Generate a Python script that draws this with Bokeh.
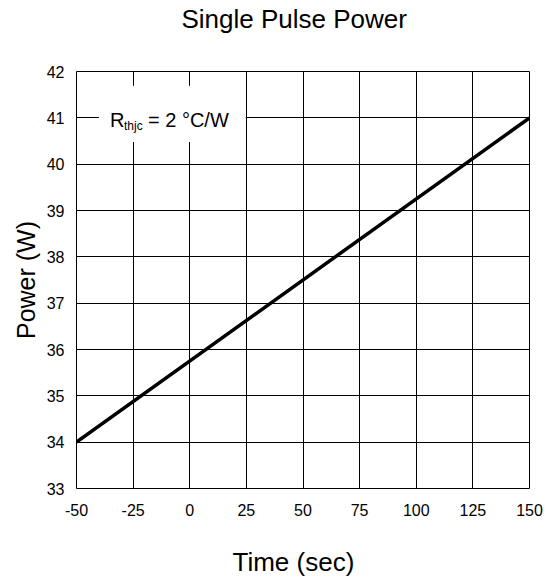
from bokeh.plotting import figure
from bokeh.models import FixedTicker, Label, BoxAnnotation, Title
from bokeh.embed import file_html
from bokeh.resources import INLINE

# Pulse power vs. time
time_s = [-50, 150]
power_w = [34, 41]

x_ticks = [-50, -25, 0, 25, 50, 75, 100, 125, 150]
x_tick_labels = ["-50", "-25", "0", "25", "50", "75", "100", "125", "150"]
y_ticks = [33, 34, 35, 36, 37, 38, 39, 40, 41, 42]

FONT = "Liberation Sans"

p = figure(
    width=547, height=582,
    x_range=(-50, 150), y_range=(33, 42),
    output_backend="svg", toolbar_location=None,
    min_border_left=76, min_border_right=18,
    min_border_top=71, min_border_bottom=94,
)

p.background_fill_color = "white"
p.border_fill_color = "white"
p.outline_line_color = "black"
p.outline_line_width = 1

# chart title
p.title.text = "Single Pulse Power"
p.title.text_font = FONT
p.title.text_font_size = "26px"
p.title.text_font_style = "normal"
p.title.text_color = "black"
p.title.align = "left"
p.title.offset = 105
p.title.vertical_align = "top"
p.title.standoff = 0
p.title.padding = dict(left=0, right=0, top=0, bottom=36)

# axes
for ax in (p.xaxis[0], p.yaxis[0]):
    ax.axis_line_color = None
    ax.major_tick_line_color = None
    ax.minor_tick_line_color = None
    ax.major_label_text_font = FONT
    ax.major_label_text_font_size = "16px"
    ax.major_label_text_color = "black"
    ax.axis_label_text_font = FONT
    ax.axis_label_text_font_size = "25px"
    ax.axis_label_text_font_style = "normal"
    ax.axis_label_text_color = "black"

p.xaxis.ticker = FixedTicker(ticks=x_ticks)
p.yaxis.ticker = FixedTicker(ticks=y_ticks)
p.xaxis.major_label_overrides = dict(zip(x_ticks, x_tick_labels))
p.yaxis.axis_label = "Power (W)"
p.xaxis.major_label_standoff = 9
p.yaxis.major_label_standoff = 6
p.yaxis.axis_label_standoff = 4

# x-axis caption, set below the tick labels
x_caption = Title(text="Time (sec)", text_font=FONT, text_font_size="26px",
                  text_font_style="normal", text_color="black",
                  align="left", offset=156, vertical_align="bottom",
                  standoff=0, padding=dict(left=0, right=0, top=26, bottom=0))
p.add_layout(x_caption, "below")

# grid
p.xgrid.ticker = FixedTicker(ticks=x_ticks)
p.ygrid.ticker = FixedTicker(ticks=y_ticks)
for g in (p.xgrid[0], p.ygrid[0]):
    g.grid_line_color = "black"
    g.grid_line_width = 1
    g.grid_line_alpha = 1

p.line(time_s, power_w, line_color="black", line_width=3.5)

# thermal resistance note on a white patch
note_box = BoxAnnotation(left=-40.1, right=24.7, top=41.69, bottom=40.48,
                         fill_color="white", fill_alpha=1, line_color=None)
p.add_layout(note_box)

common = dict(x=-50, y=42, text_font=FONT, text_color="black",
              text_baseline="alphabetic", text_align="left")
p.add_layout(Label(text="R", x_offset=33.5, y_offset=-48.5,
                   text_font_size="20px", **common))
p.add_layout(Label(text="thjc", x_offset=47.5, y_offset=-54.5,
                   text_font_size="12px", **common))
p.add_layout(Label(text="= 2 \u00b0C/W", x_offset=71.5, y_offset=-48.5,
                   text_font_size="20px", **common))

open("out.html", "w").write(file_html(p, INLINE))
